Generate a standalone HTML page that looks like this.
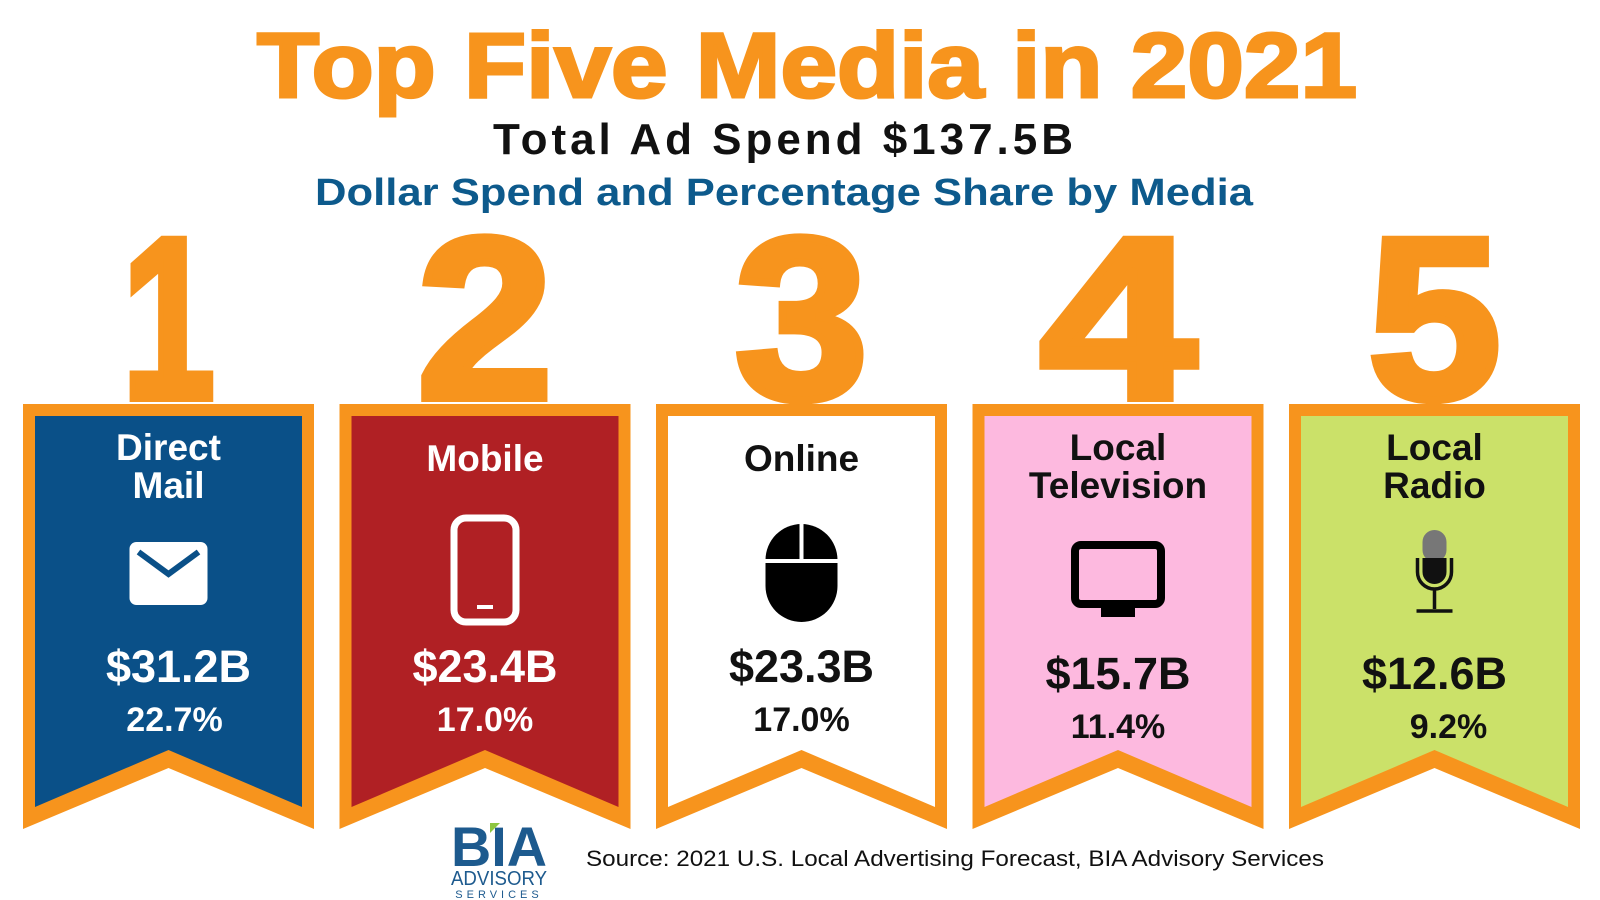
<!DOCTYPE html>
<html><head><meta charset="utf-8"><style>
html,body{margin:0;padding:0;background:#fff;}
svg{display:block;}
text{font-family:"Liberation Sans",sans-serif;}
</style></head><body>
<svg id="chart" width="1600" height="900" viewBox="0 0 1600 900" xmlns="http://www.w3.org/2000/svg">
<text x="807" y="97" text-anchor="middle" font-size="92" font-weight="bold" fill="#f7941d" stroke="#f7941d" stroke-width="3" textLength="1100" lengthAdjust="spacingAndGlyphs">Top Five Media in 2021</text>
<text x="783" y="154" text-anchor="middle" font-size="44" font-weight="bold" fill="#111" textLength="580" lengthAdjust="spacing">Total Ad Spend $137.5B</text>
<text x="784" y="205" text-anchor="middle" font-size="38" font-weight="bold" fill="#0d5a8c" textLength="938" lengthAdjust="spacingAndGlyphs">Dollar Spend and Percentage Share by Media</text>
<g id="banners"></g>
<g>
<text x="499" y="866" text-anchor="middle" font-size="56" font-weight="bold" fill="#1d5a8e" textLength="96" lengthAdjust="spacingAndGlyphs">BIA</text>
<polygon points="490,823 500,823 490,833" fill="#8dc63f"/>
<text x="499" y="885" text-anchor="middle" font-size="20" fill="#1d5a8e" textLength="96" lengthAdjust="spacingAndGlyphs">ADVISORY</text>
<text x="499" y="898" text-anchor="middle" font-size="11" fill="#1d5a8e" letter-spacing="4">SERVICES</text>
</g>
<text x="586" y="866" font-size="22" fill="#111" textLength="738" lengthAdjust="spacingAndGlyphs">Source: 2021 U.S. Local Advertising Forecast, BIA Advisory Services</text>
</svg>
<script>
const ranks = ["1","2","3","4","5"];
const mediaLines = [["Direct","Mail"],["Mobile"],["Online"],["Local","Television"],["Local","Radio"]];
const spend = [31.2, 23.4, 23.3, 15.7, 12.6];
const share = [22.7, 17.0, 17.0, 11.4, 9.2];
const fills = ["#0a5088","#b02024","#ffffff","#fdb9df","#cbe169"];
const textColors = ["#fff","#fff","#111","#111","#111"];
const NS="http://www.w3.org/2000/svg";
const g=document.getElementById('banners');
const O="#f7941d";
function mk(tag,attrs,parent){const e=document.createElementNS(NS,tag);for(const k in attrs)e.setAttribute(k,attrs[k]);(parent||g).appendChild(e);return e;}
const numW=[93,136,133,156,133];
function icon(i,cx,grp){
  if(i===0){const r=mk('rect',{x:cx-39,y:542,width:78,height:63,rx:7,fill:'#fff'},grp);
    const p=mk('polyline',{points:`${cx-30},552 ${cx},574 ${cx+30},552`,fill:'none',stroke:fills[0],'stroke-width':6},grp);}
  else if(i===1){const r=mk('rect',{x:cx-31,y:518,width:62,height:104,rx:12,fill:'none',stroke:'#fff','stroke-width':7},grp);
    const b=mk('rect',{x:cx-8,y:605,width:16,height:4,fill:'#fff'},grp);}
  else if(i===2){const p=mk('path',{d:`M${cx-36},560 a36,36 0 0 1 72,0 v26 a36,36 0 0 1 -72,0 z`,fill:'#000'},grp);
    const l=mk('path',{d:`M${cx},523 v38 M${cx-36},561 h72`,stroke:'#fff','stroke-width':4},grp);}
  else if(i===3){const r=mk('rect',{x:cx-43,y:545,width:86,height:59,rx:6,fill:'none',stroke:'#000','stroke-width':8},grp);
    const s=mk('rect',{x:cx-17,y:606,width:34,height:11,fill:'#000'},grp);}
  else{const h=mk('rect',{x:cx-12,y:530,width:24,height:32,rx:12,fill:'#777'},grp);
    const b=mk('path',{d:`M${cx-12},558 h24 v14 a12,12 0 0 1 -24,0 z`,fill:'#111'},grp);
    const s=mk('path',{d:`M${cx-17},558 v14 a17,17 0 0 0 34,0 v-14 M${cx},589 v20 M${cx-18},611 h36`,fill:'none',stroke:'#111','stroke-width':3.5},grp);}
}
for(let i=0;i<5;i++){
  const L=23+i*316.5, W=291, T=404, B=829, A=768, cx=L+W/2;
  const grp=mk('g',{});
  
  
  const num=mk('text',{x:cx,y:398,'text-anchor':'middle','font-size':230,'font-weight':'bold',fill:O,stroke:O,'stroke-width':8,textLength:numW[i],lengthAdjust:'spacingAndGlyphs'},grp);
  num.textContent=ranks[i];
  
  
  const sh=mk('polygon',{points:`${L},${T} ${L+W},${T} ${L+W},${B} ${cx},${A} ${L},${B}`,fill:O},grp);
  
  
  const b=12;
  const inner=mk('polygon',{points:`${L+b},${T+b} ${L+W-b},${T+b} ${L+W-b},${B-22} ${cx},${A-18} ${L+b},${B-22}`,fill:fills[i]},grp);
  
  
  const lines=mediaLines[i];
  const ys=lines.length===1?[471]:[460,498];
  lines.forEach((t,j)=>{const e=mk('text',{x:cx,y:ys[j],'text-anchor':'middle','font-size':37,'font-weight':'bold',fill:textColors[i]},grp);e.textContent=t;
    
    });
  icon(i,cx,grp);
  const off=i>=3?7:0;
  const v=mk('text',{x:cx+(i===0?10:0),y:682+off,'text-anchor':'middle','font-size':45,'font-weight':'bold',fill:textColors[i]},grp);
  v.textContent='$'+spend[i].toFixed(1)+'B';
  
  
  const p=mk('text',{x:cx+(i===0?6:i===4?14:0),y:731+off,'text-anchor':'middle','font-size':34,'font-weight':'bold',fill:textColors[i]},grp);
  p.textContent=share[i].toFixed(1)+'%';
  
  
}
</script>
</body></html>
